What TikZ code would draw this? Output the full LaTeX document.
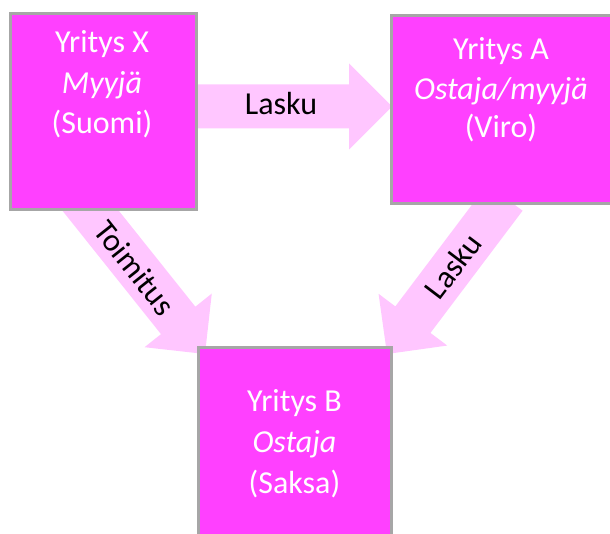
\documentclass[tikz,border=0pt]{standalone}
\usepackage{fontspec}
\setmainfont{Carlito}
\usetikzlibrary{calc}
\definecolor{boxfill}{HTML}{FF40FF}
\definecolor{boxline}{HTML}{A6A6A6}
\definecolor{arrfill}{HTML}{FFC6FF}
\tikzset{
  firm/.style={draw=boxline, line width=3pt, fill=boxfill},
  wtext/.style={text=white, font=\fontsize{32}{40}\selectfont, inner sep=0pt, anchor=base},
  btext/.style={text=black, font=\fontsize{32}{40}\selectfont, inner sep=0pt},
  arrfill/.style={fill=arrfill, draw=none}
}
\newcommand{\blockarr}[2]{%
  \coordinate (hb) at ($(#2)!43pt!(#1)$);
  \path[arrfill] ($(#1)!22pt!90:(#2)$) -- ($(hb)!22pt!-90:(#1)$) -- ($(hb)!43pt!-90:(#1)$) -- (#2)
    -- ($(hb)!43pt!90:(#1)$) -- ($(hb)!22pt!90:(#1)$) -- ($(#1)!22pt!-90:(#2)$) -- cycle;
}
\begin{document}
\begin{tikzpicture}[x=1pt,y=-1pt]
\useasboundingbox (0,0) rectangle (610,534);
% arrow end points
\coordinate (h1s) at (190,106.5);
\coordinate (h1e) at (392,106.5);
\coordinate (d1s) at (74.8,190.9);
\coordinate (d1e) at (205,354);
\coordinate (d2s) at (505,197.5);
\coordinate (d2e) at (387,354);
\blockarr{h1s}{h1e}
\blockarr{d1s}{d1e}
\blockarr{d2s}{d2e}
% boxes
\path[firm] (10,14) rectangle (196,210);
\path[firm] (391,16) rectangle (614,204);
\path[firm] (198,347) rectangle (391,540);
% box texts
\node[wtext] (x1) at (102,53) {Yritys X};
\node[wtext] (x2) at (102,94) {\itshape Myyjä};
\node[wtext] (x3) at (102,134) {(Suomi)};
\node[wtext] (a1) at (501,60) {Yritys A};
\node[wtext] (a2) at (501,100) {\itshape Ostaja/myyjä};
\node[wtext] (a3) at (501,138) {(Viro)};
\node[wtext] (b1) at (294.5,411) {Yritys B};
\node[wtext] (b2) at (294.5,452) {\itshape Ostaja};
\node[wtext] (b3) at (294.5,493) {(Saksa)};
% arrow labels
\node[btext, anchor=base] (l1) at (281,115) {Lasku};
\node[btext, rotate=-51.6] (l2) at (135,268) {Toimitus};
\node[btext, rotate=52.8] (l3) at (453,266) {Lasku};
\end{tikzpicture}
\end{document}
